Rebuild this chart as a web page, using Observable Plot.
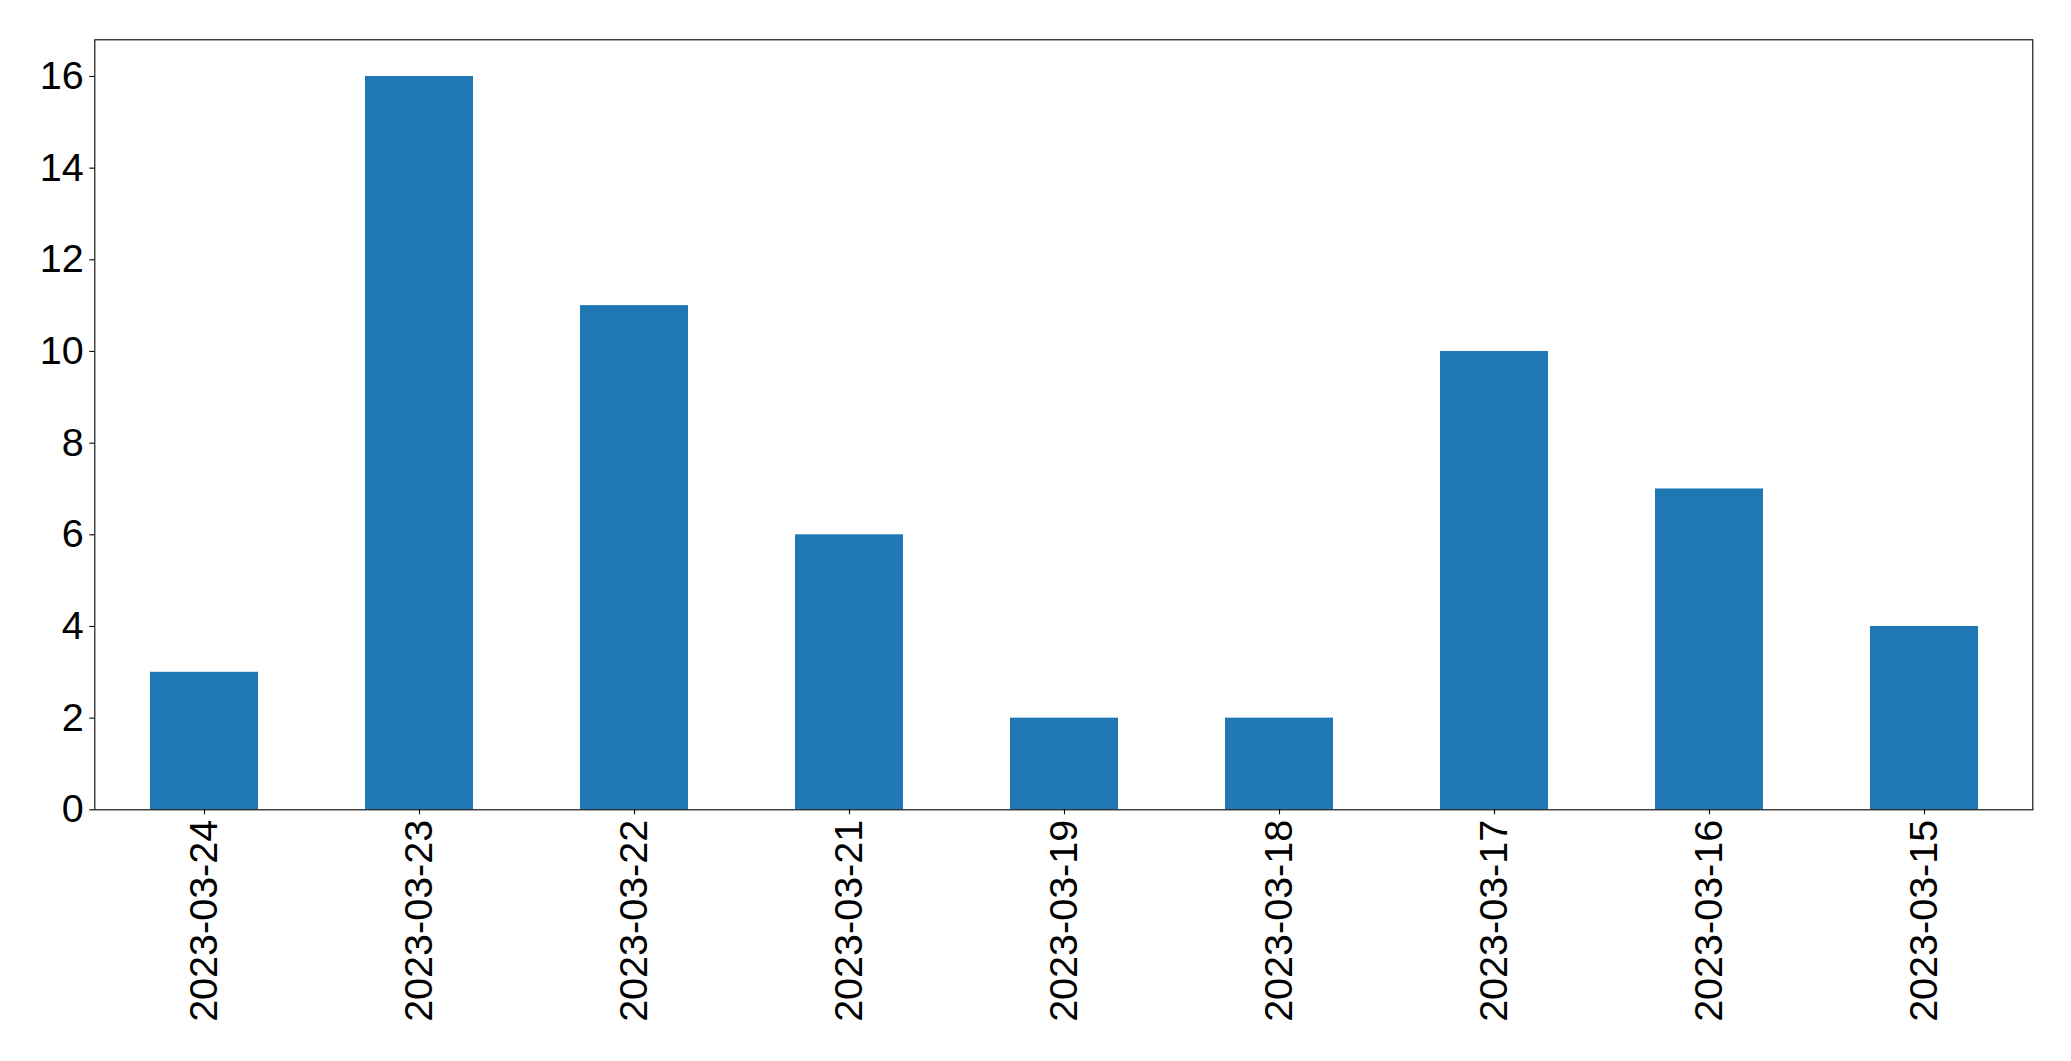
<!DOCTYPE html>
<html>
<head>
<meta charset="utf-8">
<script src="https://cdn.jsdelivr.net/npm/d3@7"></script>
<script src="https://cdn.jsdelivr.net/npm/@observablehq/plot@0.6"></script>
<style>
  html, body { margin: 0; padding: 0; background: #fff; }
  #chart svg { display: block; }
</style>
</head>
<body>
<div id="chart"></div>
<script>
const dates = ["2023-03-24","2023-03-23","2023-03-22","2023-03-21","2023-03-19","2023-03-18","2023-03-17","2023-03-16","2023-03-15"];
const counts = [3, 16, 11, 6, 2, 2, 10, 7, 4];
const yTicks = [0, 2, 4, 6, 8, 10, 12, 14, 16];

const data = dates.map((d, i) => ({date: d, count: counts[i]}));

const chart = Plot.plot({
  width: 2071,
  height: 1061,
  marginLeft: 94.3,
  marginRight: 38.7,
  marginTop: 39.3,
  marginBottom: 251.7,
  style: {fontFamily: "'Liberation Sans', Arial, sans-serif", fontSize: "39.5px", color: "#000", background: "#fff"},
  x: {domain: dates, paddingInner: 0.5, paddingOuter: 0.25, align: 0.5, label: null},
  y: {domain: [0, 16.8], label: null},
  marks: [
    Plot.barY(data, {x: "date", y: "count", fill: "#1f77b4"}),
    Plot.axisY({ticks: yTicks, tickSize: 5, tickPadding: 6, fontSize: 39.5, label: null, strokeWidth: 1.1}),
    Plot.axisX({tickSize: 5, tickPadding: 5, tickRotate: -90, fontSize: 39.5, label: null, strokeWidth: 1.1}),
    Plot.frame({stroke: "#000", strokeWidth: 1.1})
  ]
});
document.getElementById("chart").appendChild(chart);
</script>
</body>
</html>
